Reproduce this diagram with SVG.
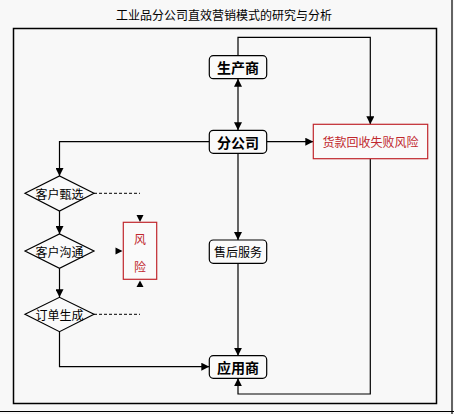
<svg xmlns="http://www.w3.org/2000/svg" width="454" height="414" viewBox="0 0 454 414">
<style>
.t{font-family:"Noto Sans CJK SC","Liberation Sans",sans-serif;text-anchor:middle;dominant-baseline:central}
.b{font-weight:bold;font-size:14px;fill:#000}
.n{font-size:12px;fill:#000}
.r{font-size:12px;fill:#c0272d}
.box{fill:#fafafa;stroke:#000;stroke-width:1.2}
.rbox{fill:#fafafa;stroke:#c0272d;stroke-width:1.2}
.ln{fill:none;stroke:#000;stroke-width:1.2}
.ds{fill:none;stroke:#000;stroke-width:1;stroke-dasharray:3,2}
.ah{fill:#000}
</style>
<defs>
<marker id="a" markerUnits="userSpaceOnUse" markerWidth="8" markerHeight="8" refX="8" refY="4" orient="auto">
<path d="M0,0 L8,4 L0,8 z" fill="#000"/>
</marker>
<marker id="s" markerUnits="userSpaceOnUse" markerWidth="8" markerHeight="8" refX="0" refY="4" orient="auto">
<path d="M8,0 L0,4 L8,8 z" fill="#000"/>
</marker>
</defs>
<rect width="454" height="414" fill="#f8f8f8"/>
<line x1="452" y1="0" x2="452" y2="414" stroke="#000" stroke-width="1.2"/>
<line x1="0" y1="411.5" x2="454" y2="411.5" stroke="#000" stroke-width="1.2"/>
<rect x="13.5" y="28.5" width="423" height="375" fill="none" stroke="#000" stroke-width="1.5"/>
<text class="t n" x="224" y="14">工业品分公司直效营销模式的研究与分析</text>
<g id="connectors">
<polyline class="ln" points="238,55.7 238,37.3 370.3,37.3 370.3,124.3" marker-end="url(#a)"/>
<line class="ln" x1="238" y1="78.7" x2="238" y2="130.3" marker-start="url(#s)" marker-end="url(#a)"/>
<line class="ln" x1="266.7" y1="141.7" x2="313.3" y2="141.7" marker-end="url(#a)"/>
<polyline class="ln" points="209.3,141.7 59.5,141.7 59.5,176" marker-end="url(#a)"/>
<line class="ln" x1="238" y1="153.3" x2="238" y2="240" marker-end="url(#a)"/>
<line class="ln" x1="59.5" y1="211" x2="59.5" y2="234" marker-end="url(#a)"/>
<line class="ln" x1="59.5" y1="268.3" x2="59.5" y2="297.3" marker-end="url(#a)"/>
<polyline class="ln" points="59.5,331.7 59.5,366.7 209.3,366.7" marker-end="url(#a)"/>
<line class="ln" x1="238" y1="263.3" x2="238" y2="355.7" marker-end="url(#a)"/>
<polyline class="ln" points="370.3,158.7 370.3,394 238,394 238,378.3" marker-end="url(#a)"/>
<line class="ds" x1="94" y1="193.3" x2="140" y2="193.3"/>
<line class="ds" x1="94" y1="314.3" x2="140" y2="314.3"/>
<polygon class="ah" points="136.5,215 143.5,215 140,222"/>
<polygon class="ah" points="136.5,287 143.5,287 140,280.5"/>
<polygon class="ah" points="115.5,247.5 115.5,254.5 122.5,251"/>
</g>
<g id="producer"><rect class="box" x="209.3" y="55.7" width="57.4" height="23" rx="4"/><text class="t b" x="238" y="67.2">生产商</text></g>
<g id="branch"><rect class="box" x="209.3" y="130.3" width="57.4" height="23" rx="4"/><text class="t b" x="238" y="141.8">分公司</text></g>
<g id="payment-risk"><rect class="rbox" x="313.3" y="124.3" width="114.4" height="34.4"/><text class="t r" x="370.5" y="141.5">货款回收失败风险</text></g>
<g id="screening"><polygon class="box" points="25,193.3 59.5,176 94,193.3 59.5,211"/><text class="t n" x="59.5" y="193.3">客户甄选</text></g>
<g id="communication"><polygon class="box" points="25,251 59.5,234 94,251 59.5,268.3"/><text class="t n" x="59.5" y="251">客户沟通</text></g>
<g id="order"><polygon class="box" points="25,314.3 59.5,297.3 94,314.3 59.5,331.7"/><text class="t n" x="59.5" y="314.3">订单生成</text></g>
<g id="risk"><rect class="rbox" x="123.3" y="222.3" width="33.4" height="57"/><text class="t r" x="140" y="238">风</text><text class="t r" x="140" y="266.5">险</text></g>
<g id="after-sales"><rect class="box" x="209.3" y="240" width="57.4" height="23.3" rx="4"/><text class="t n" x="238" y="251.6">售后服务</text></g>
<g id="customer"><rect class="box" x="209.3" y="355.7" width="57.4" height="22.6" rx="4"/><text class="t b" x="238" y="367">应用商</text></g>
</svg>
